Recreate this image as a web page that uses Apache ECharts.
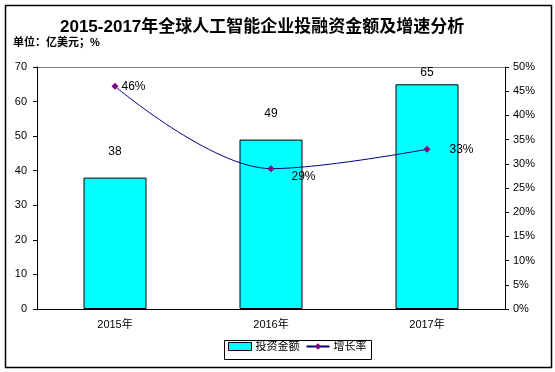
<!DOCTYPE html>
<html><head><meta charset="utf-8">
<script src="https://cdn.jsdelivr.net/npm/echarts@6/dist/echarts.min.js"></script>
<style>html,body{margin:0;padding:0;background:#fff}#c{width:555px;height:372px}</style>
</head><body><div id="c"></div>
<script>
const categories = ['2015年', '2016年', '2017年'];
const investment = [38, 49, 65];
const growthRate = [46, 29, 33];
const leftTicks = [0, 10, 20, 30, 40, 50, 60, 70];
const rightTicks = [0, 5, 10, 15, 20, 25, 30, 35, 40, 45, 50];

const barLabelDistance = [20, 20, 6];
const lineLabelOffsets = [[0, 0], [14, 8], [16, 0]];

const chart = echarts.init(document.getElementById('c'));
const font = 'Arial, "Liberation Sans", "Noto Sans CJK SC", sans-serif';
chart.setOption({
  animation: false,
  backgroundColor: '#fff',
  textStyle: {fontFamily: font},
  graphic: [
    {type: 'rect', left: 3, top: 3, shape: {width: 546, height: 362}, style: {fill: 'none', stroke: '#000', lineWidth: 1.5}, silent: true},
    {type: 'rect', left: 222, top: 338, shape: {width: 147, height: 19}, style: {fill: 'none', stroke: '#000', lineWidth: 1}, silent: true},
    {type: 'line', shape: {x1: 37, y1: 67.5, x2: 505, y2: 67.5}, style: {stroke: '#808080', lineWidth: 1}, silent: true}
  ],
  title: [
    {text: '2015-2017年全球人工智能企业投融资金额及增速分析', left: 60, top: 19, padding: 0,
     textStyle: {fontSize: 17, fontWeight: 'bold', color: '#000', fontFamily: font}},
    {text: '单位：亿美元；%', left: 13, top: 37, padding: 0,
     textStyle: {fontSize: 11, fontWeight: 'bold', color: '#000', fontFamily: font}}
  ],
  legend: {
    left: 228, top: 341, padding: 0, itemGap: 6, itemWidth: 23, itemHeight: 8,
    textStyle: {fontSize: 11, color: '#000', fontFamily: font, padding: [0,0,0,-1]},
    data: [
      {name: '投资金额', icon: 'rect', itemStyle: {color: '#00FFFF', borderColor: '#000', borderWidth: 1}},
      {name: '增长率'}
    ]
  },
  grid: {left: 37, right: 50, top: 67, bottom: 63},
  xAxis: {
    type: 'category', data: categories,
    axisLine: {lineStyle: {color: '#000', width: 1}},
    axisTick: {show: false},
    axisLabel: {fontSize: 11, color: '#000', margin: 10}
  },
  yAxis: [
    {type: 'value', min: 0, max: 70, interval: 10,
     axisLine: {show: true, lineStyle: {color: '#000'}},
     axisTick: {show: true, inside: false, length: 4, lineStyle: {color: '#000'}},
     splitLine: {show: false},
     axisLabel: {fontSize: 11, color: '#000', margin: 10}},
    {type: 'value', min: 0, max: 50, interval: 5, position: 'right',
     axisLine: {show: true, lineStyle: {color: '#000'}},
     axisTick: {show: true, inside: false, length: 4, lineStyle: {color: '#000'}},
     splitLine: {show: false},
     axisLabel: {fontSize: 11, color: '#000', margin: 8, formatter: '{value}%'}}
  ],
  series: [
    {name: '投资金额', type: 'bar', barWidth: 63,
     data: investment.map((v, i) => ({value: v, label: {distance: barLabelDistance[i]}})),
     itemStyle: {color: '#00FFFF', borderColor: '#000', borderWidth: 1},
     label: {show: true, position: 'top', fontSize: 12, color: '#000'}},
    {name: '增长率', type: 'line', yAxisIndex: 1, smooth: 0.35,
     data: growthRate.map((v, i) => ({value: v, label: {offset: lineLabelOffsets[i]}})),
     symbol: 'diamond', symbolSize: 7,
     lineStyle: {color: '#000080', width: 1},
     itemStyle: {color: '#800080'},
     label: {show: true, position: 'right', distance: 3, fontSize: 12, color: '#000', formatter: '{c}%'}}
  ]
});
</script></body></html>
